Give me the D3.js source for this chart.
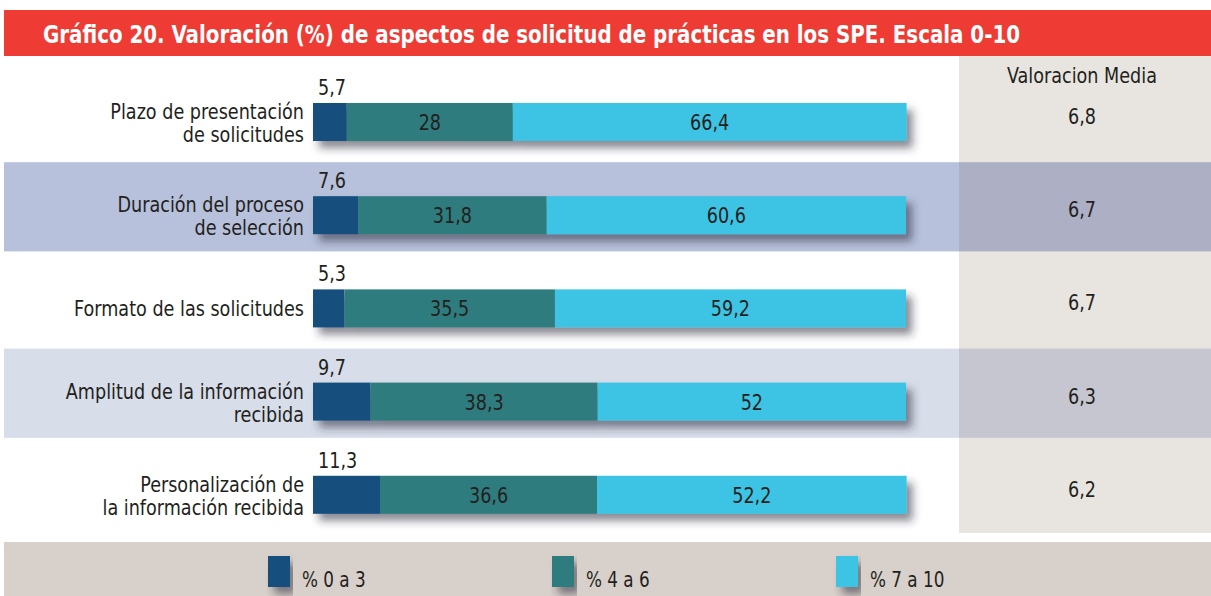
<!DOCTYPE html>
<html>
<head>
<meta charset="utf-8">
<script src="https://cdn.jsdelivr.net/npm/d3@7.9.0/dist/d3.min.js"></script>
<style>
  html, body { margin: 0; padding: 0; background: #fff; }
  svg text { font-family: "Liberation Sans Narrow", "DejaVu Sans Condensed", "Arial Narrow", sans-serif; fill: #231f20; }
</style>
</head>
<body>
<svg id="chart" width="1211" height="596"></svg>
<script>
// data
const categories = [
  "Plazo de presentación\nde solicitudes",
  "Duración del proceso\nde selección",
  "Formato de las solicitudes",
  "Amplitud de la información\nrecibida",
  "Personalización de\nla información recibida"
];
const low = [5.7, 7.6, 5.3, 9.7, 11.3];
const mid = [28, 31.8, 35.5, 38.3, 36.6];
const high = [66.4, 60.6, 59.2, 52, 52.2];
const media = [6.8, 6.7, 6.7, 6.3, 6.2];
const seriesNames = ["% 0 a 3", "% 4 a 6", "% 7 a 10"];
const title = "Gráfico 20. Valoración (%) de aspectos de solicitud de prácticas en los SPE. Escala 0-10";
const mediaTitle = "Valoracion Media";

const colors = ["#124f7e", "#2e7c7e", "#3cc3e3"];
const fmt = v => String(v).replace(".", ",");

const svg = d3.select("#chart");
const W = 1211, H = 596;
const SX = 0.89; // squeeze the font a bit, reference uses a condensed face

// text helper: squeezed horizontally around its anchor point
function label(g, x, y, s, anchor = "start", size = 22) {
  return g.append("text")
    .attr("transform", `translate(${x},${y}) scale(${SX},1)`)
    .attr("text-anchor", anchor)
    .style("font-size", size + "px")
    .text(s);
}

// drop shadow for bars
const defs = svg.append("defs");
const f = defs.append("filter").attr("id", "shadow")
  .attr("x", "-5%").attr("y", "-30%").attr("width", "115%").attr("height", "190%");
f.append("feDropShadow").attr("dx", 6).attr("dy", 7).attr("stdDeviation", 4)
  .attr("flood-color", "#2a2a3a").attr("flood-opacity", 0.55);

// scales
const x = d3.scaleLinear().domain([0, 100]).range([313, 906]);
const y = d3.scaleBand().domain(categories).range([69, 535]);
const barOff = 34, barH = 38;
const bandFill = ["none", "#b7c1db", "none", "#d7dde9", "none"];
const panelFill = ["none", "#adafc4", "none", "#c6c6d0", "none"];

// title bar
svg.append("rect").attr("x", 4).attr("y", 10).attr("width", W - 4).attr("height", 46).attr("fill", "#ee3b33");
svg.append("text").attr("x", 43).attr("y", 43)
  .attr("textLength", 977).attr("lengthAdjust", "spacingAndGlyphs")
  .style("fill", "#fff").style("font-weight", "bold").style("font-size", "25px")
  .text(title);

// right panel
svg.append("rect").attr("x", 959).attr("y", 56).attr("width", W - 959).attr("height", 477).attr("fill", "#e8e5e0");

// row bands
const rows = svg.append("g").selectAll("g").data(categories).join("g");
rows.append("rect").attr("x", 4).attr("y", d => y(d)).attr("width", 955).attr("height", y.bandwidth() - 4)
  .attr("fill", (d, i) => bandFill[i]);
rows.append("rect").attr("x", 959).attr("y", d => y(d)).attr("width", W - 959).attr("height", y.bandwidth() - 4)
  .attr("fill", (d, i) => panelFill[i]);

// stacked bars
const stackData = categories.map((c, i) => ({ c, v: [low[i], mid[i], high[i]] }));
const bars = svg.append("g").selectAll("g").data(stackData).join("g")
  .attr("filter", "url(#shadow)");
bars.selectAll("rect").data(d => {
  let acc = 0;
  return d.v.map((v, k) => { const s = { c: d.c, k, v, x0: acc }; acc += v; return s; });
}).join("rect")
  .attr("x", d => x(d.x0))
  .attr("y", d => y(d.c) + barOff)
  .attr("width", d => x(d.x0 + d.v) - x(d.x0))
  .attr("height", barH)
  .attr("fill", d => colors[d.k]);

// value labels
const labels = svg.append("g");
stackData.forEach(d => {
  const top = y(d.c) + barOff;
  label(labels, x(0) + 5, top - 8, fmt(d.v[0]));
  let acc = d.v[0];
  [1, 2].forEach(k => {
    label(labels, x(acc + d.v[k] / 2), top + barH / 2 + 8, fmt(d.v[k]), "middle");
    acc += d.v[k];
  });
});

// category labels
const cat = svg.append("g");
categories.forEach(c => {
  const lines = c.split("\n");
  const cy = y(c) + barOff + barH / 2;
  lines.forEach((ln, j) => {
    label(cat, 304, lines.length === 1 ? cy + 8 : cy - 3 + j * 23, ln, "end");
  });
});

// media column
const med = svg.append("g");
label(med, 1082, 83, mediaTitle, "middle");
media.forEach((v, i) => {
  label(med, 1082, y(categories[i]) + barOff + barH / 2 + 2, fmt(v), "middle");
});

// legend
svg.append("rect").attr("x", 4).attr("y", 542).attr("width", W - 4).attr("height", H - 542).attr("fill", "#d8d0ca");
const lx = d3.scaleLinear().domain([0, 2]).range([268, 836]);
const leg = svg.append("g").selectAll("g").data(seriesNames).join("g")
  .attr("transform", (d, i) => `translate(${lx(i)},0)`);
leg.append("rect").attr("y", 556).attr("width", 22).attr("height", 31)
  .attr("fill", (d, i) => colors[i]).attr("filter", "url(#shadow)");
leg.each(function (d) { label(d3.select(this), 34, 587, d, "start", 21); });
</script>
</body>
</html>
